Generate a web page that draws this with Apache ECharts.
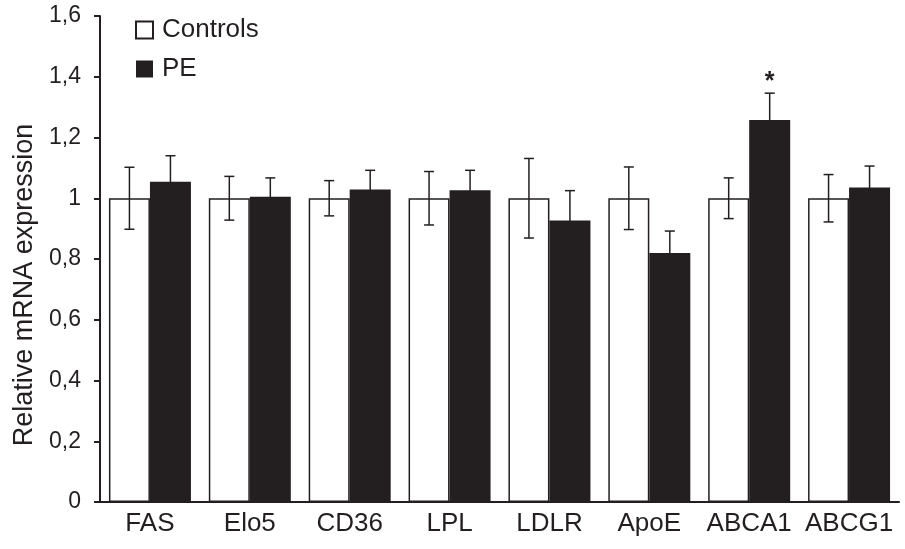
<!DOCTYPE html>
<html>
<head>
<meta charset="utf-8">
<script src="https://cdn.jsdelivr.net/npm/echarts@6/dist/echarts.min.js"></script>
<style>
  html, body { margin: 0; padding: 0; background: #fff; }
  #showChart { width: 905px; height: 549px; }
</style>
</head>
<body>
<div id="showChart"></div>
<script>
var genes = ['FAS', 'Elo5', 'CD36', 'LPL', 'LDLR', 'ApoE', 'ABCA1', 'ABCG1'];
var controls = [1, 1, 1, 1, 1, 1, 1, 1];
var controlsErr = [0.102, 0.072, 0.058, 0.088, 0.131, 0.103, 0.067, 0.078];
var pe = [1.054, 1.005, 1.029, 1.026, 0.927, 0.820, 1.258, 1.035];
var peErr = [0.086, 0.062, 0.063, 0.066, 0.098, 0.072, 0.088, 0.071];
var peStars = ['', '', '', '', '', '', '*', ''];
var yTicks = [0, 0.2, 0.4, 0.6, 0.8, 1, 1.2, 1.4, 1.6];

var ink = '#231f20';
var fontName = '"Liberation Sans", Arial, sans-serif';
var barW = 41;

function errorSeries(name, values, errs, offset, stars) {
    var data = values.map(function (v, i) { return [i, v, errs[i], stars ? stars[i] : '']; });
    return {
        name: name,
        type: 'custom',
        z: 5,
        silent: true,
        data: data,
        renderItem: function (params, api) {
            var i = api.value(0);
            var v = api.value(1);
            var e = api.value(2);
            var top = api.coord([i, v + e]);
            var bot = api.coord([i, v - e]);
            var x = top[0] + offset;
            var style = { stroke: ink, lineWidth: 1.5 };
            var children = [
                { type: 'line', shape: { x1: x, y1: top[1], x2: x, y2: bot[1] }, style: style },
                { type: 'line', shape: { x1: x - 5, y1: top[1], x2: x + 5, y2: top[1] }, style: style },
                { type: 'line', shape: { x1: x - 5, y1: bot[1], x2: x + 5, y2: bot[1] }, style: style }
            ];
            var star = data[params.dataIndex][3];
            if (star) {
                children.push({
                    type: 'text',
                    style: { text: star, x: x, y: top[1] + 1, align: 'center', verticalAlign: 'bottom',
                             fill: ink, font: 'bold 25px ' + fontName }
                });
            }
            return { type: 'group', children: children };
        }
    };
}

var option1 = {
    animation: false,
    backgroundColor: '#fff',
    grid: { left: 100, right: 6, top: 16, bottom: 47 },
    legend: {
        data: ['Controls', 'PE'],
        orient: 'vertical',
        left: 130,
        top: 12,
        itemWidth: 17,
        itemHeight: 17,
        itemGap: 13,
        icon: 'rect',
        padding: 5,
        textStyle: { fontFamily: fontName, fontSize: 26, color: ink, padding: [0, 0, 0, 4] }
    },
    xAxis: {
        type: 'category',
        data: genes,
        axisLine: { lineStyle: { color: ink, width: 2 } },
        axisTick: { length: 5, lineStyle: { color: ink, width: 2 } },
        axisLabel: { interval: 0, fontFamily: fontName, fontSize: 26, color: ink, margin: 9 }
    },
    yAxis: {
        type: 'value',
        min: 0,
        max: 1.6,
        interval: 0.2,
        name: 'Relative mRNA expression',
        nameLocation: 'middle',
        nameGap: 61,
        nameTextStyle: { fontFamily: fontName, fontSize: 27, color: ink, padding: [0, 52, 0, 0] },
        splitLine: { show: false },
        axisLine: { show: true, lineStyle: { color: ink, width: 2 } },
        axisTick: { show: true, length: 6, lineStyle: { color: ink, width: 2 } },
        axisLabel: {
            fontFamily: fontName, fontSize: 23, color: ink, margin: 19,
            formatter: function (v) {
                var t = yTicks.reduce(function (a, b) { return Math.abs(b - v) < Math.abs(a - v) ? b : a; });
                return String(t).replace('.', ',');
            }
        }
    },
    series: [
        {
            name: 'Controls',
            type: 'bar',
            data: controls,
            barWidth: barW,
            barGap: '0%',
            itemStyle: { color: '#fff', borderColor: ink, borderWidth: 1.5 }
        },
        {
            name: 'PE',
            type: 'bar',
            data: pe,
            barWidth: barW,
            barGap: '0%',
            itemStyle: { color: ink, borderColor: ink, borderWidth: 0 }
        },
        errorSeries('ControlsErr', controls, controlsErr, -barW / 2),
        errorSeries('PEErr', pe, peErr, barW / 2, peStars)
    ]
};

var chartOutChar = echarts.init(document.getElementById('showChart'));
chartOutChar.setOption(option1);
</script>
</body>
</html>
